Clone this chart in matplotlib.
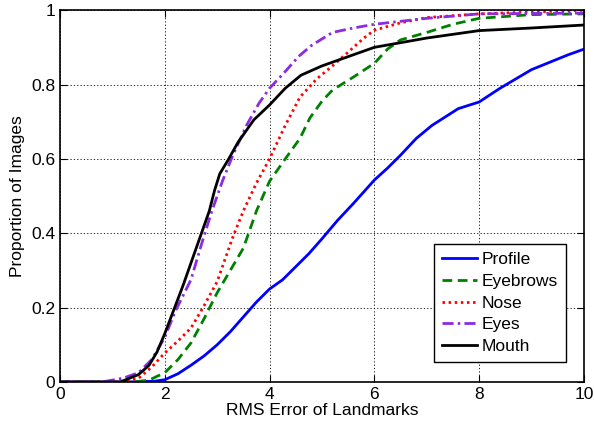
import numpy as np
import matplotlib.pyplot as plt

plt.rcParams['font.family'] = ['Liberation Sans', 'DejaVu Sans']

# cumulative error curves
profile_x = [0, 1.3, 1.8, 2.0, 2.25, 2.5, 2.75, 3.0, 3.25, 3.5, 3.75, 4.0, 4.25, 4.5, 4.75, 5.0, 5.3, 5.6, 6.0, 6.25, 6.5, 6.8, 7.1, 7.6, 8.0, 8.4, 9.0, 9.7, 10]
profile_y = [0, 0, 0.002, 0.006, 0.022, 0.045, 0.07, 0.10, 0.135, 0.175, 0.215, 0.25, 0.275, 0.31, 0.345, 0.385, 0.435, 0.48, 0.543, 0.575, 0.61, 0.655, 0.69, 0.735, 0.753, 0.79, 0.84, 0.88, 0.895]

brows_x = [0, 1.4, 1.7, 2.0, 2.25, 2.5, 2.75, 3.0, 3.25, 3.5, 3.75, 4.0, 4.3, 4.58, 4.77, 5.0, 5.2, 5.6, 6.0, 6.25, 6.5, 7.0, 7.5, 8.0, 9.0, 10]
brows_y = [0, 0, 0.005, 0.025, 0.06, 0.105, 0.17, 0.24, 0.30, 0.36, 0.46, 0.54, 0.60, 0.655, 0.71, 0.755, 0.785, 0.82, 0.857, 0.895, 0.92, 0.94, 0.962, 0.978, 0.988, 0.99]

nose_x = [0, 1.15, 1.5, 1.75, 2.0, 2.25, 2.5, 2.75, 3.0, 3.3, 3.5, 3.75, 4.0, 4.3, 4.58, 4.9, 5.2, 5.5, 5.8, 6.0, 6.5, 7.0, 8.0, 10]
nose_y = [0, 0, 0.01, 0.04, 0.078, 0.11, 0.145, 0.205, 0.27, 0.39, 0.46, 0.535, 0.6, 0.69, 0.766, 0.815, 0.85, 0.887, 0.925, 0.946, 0.966, 0.98, 0.99, 1.0]

eyes_x = [0, 0.8, 1.2, 1.5, 1.75, 2.0, 2.2, 2.5, 2.7, 2.9, 3.1, 3.3, 3.56, 3.8, 4.0, 4.3, 4.55, 4.8, 5.2, 5.6, 6.0, 7.0, 8.0, 10]
eyes_y = [0, 0, 0.01, 0.025, 0.06, 0.12, 0.19, 0.275, 0.37, 0.46, 0.54, 0.61, 0.69, 0.75, 0.79, 0.835, 0.875, 0.905, 0.94, 0.952, 0.962, 0.978, 0.99, 0.992]

mouth_x = [0, 1.15, 1.5, 1.7, 1.85, 2.0, 2.35, 2.7, 2.85, 2.95, 3.05, 3.2, 3.4, 3.7, 4.0, 4.3, 4.6, 5.0, 5.5, 6.0, 7.0, 8.0, 9.0, 10]
mouth_y = [0, 0, 0.02, 0.045, 0.08, 0.13, 0.26, 0.40, 0.46, 0.515, 0.56, 0.595, 0.645, 0.705, 0.745, 0.79, 0.825, 0.85, 0.875, 0.90, 0.925, 0.945, 0.952, 0.96]

fig = plt.figure(figsize=(5.94, 4.23), dpi=100)
ax = fig.add_axes([0.101, 0.097, 0.882, 0.879])

lw = 2.0
ax.plot(profile_x, profile_y, color='#0000ff', lw=lw, ls='-', label='Profile')
ax.plot(brows_x, brows_y, color='#008000', lw=lw, ls=(0, (3.5, 2)), label='Eyebrows')
ax.plot(nose_x, nose_y, color='#ff0000', lw=lw, ls=(0, (0.9, 1.3)), label='Nose')
ax.plot(eyes_x, eyes_y, color='#8b2be2', lw=lw, ls=(0, (4, 1.5, 0.9, 1.5)), label='Eyes')
ax.plot(mouth_x, mouth_y, color='black', lw=lw, ls='-', label='Mouth')

ax.set_xlim(0, 10)
ax.set_ylim(0, 1)
ax.set_xticks([0, 2, 4, 6, 8, 10])
ax.set_yticks([0, 0.2, 0.4, 0.6, 0.8, 1])
ax.set_yticklabels(['0', '0.2', '0.4', '0.6', '0.8', '1'])
ax.tick_params(direction='in', top=True, right=True, labelsize=12.5, length=5, width=0.8)
ax.grid(True, color='black', ls=(0, (1.5, 2.5)), lw=0.6)
for s in ax.spines.values():
    s.set_linewidth(1.2)

ax.set_xlabel('RMS Error of Landmarks', fontsize=12.5, labelpad=1)
ax.set_ylabel('Proportion of Images', fontsize=12.5, labelpad=4)

leg = ax.legend(loc='lower right', bbox_to_anchor=(0.966, 0.054), fontsize=12.5,
                fancybox=False, framealpha=1, edgecolor='black', handlelength=2.0,
                labelspacing=0.38, borderpad=0.45, handletextpad=0.3, borderaxespad=0)
leg.get_frame().set_linewidth(1.0)

plt.savefig('out.png', dpi=100)
